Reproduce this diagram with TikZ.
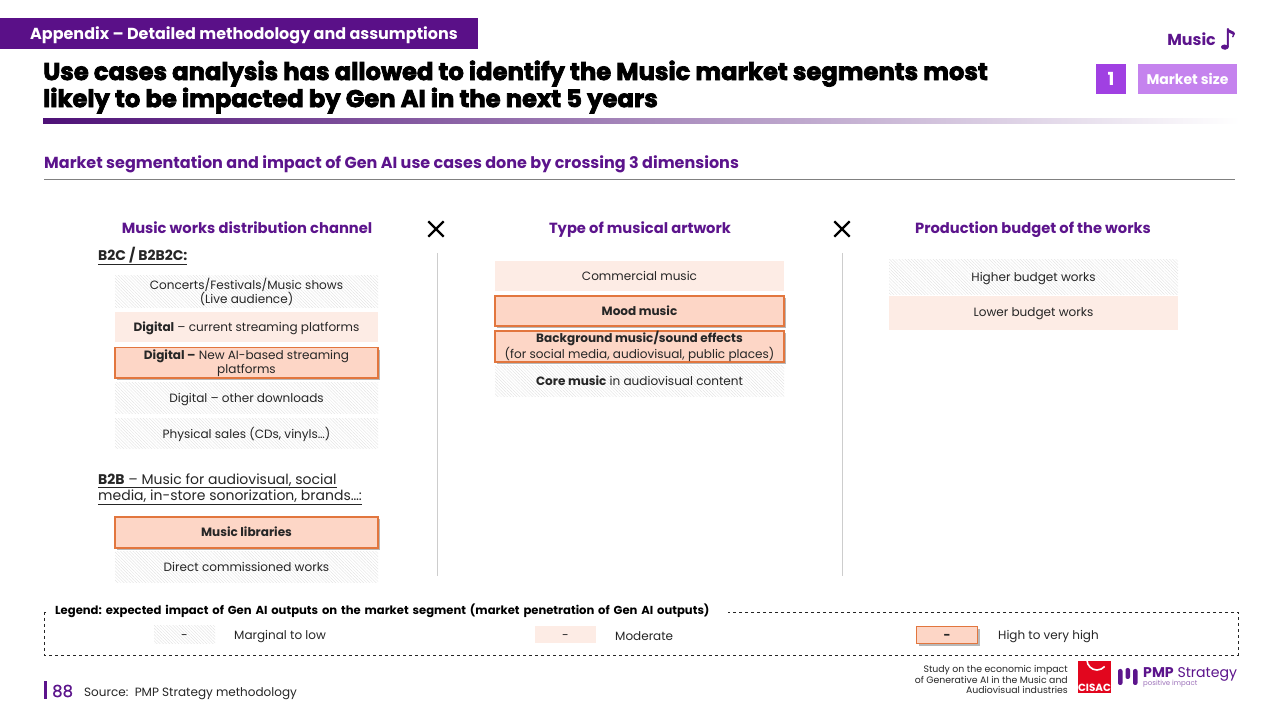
\documentclass[tikz,border=0pt]{standalone}
\usepackage{fontspec}
\setmainfont{Poppins}
\newfontfamily\titleFont[BoldFeatures={FakeBold=3}]{Poppins}
\newfontfamily\mediumFont[FakeBold=0.6]{Poppins}
\newfontfamily\symbolFont[FakeBold=2]{DejaVu Sans}
\usetikzlibrary{patterns.meta,shadows,shapes.misc}
\newcommand{\fsize}[2]{\fontsize{#1}{#2}\selectfont}
\newcommand{\boxStrut}{\rule[-2.8pt]{0pt}{14pt}}
\tikzset{
  lowBox/.style={minimum height=#1,inner sep=0pt,align=center,text=textColor,
    pattern={Lines[angle=-45,distance=2.2pt,line width=0.3pt]},pattern color=hatchColor},
  lowBox/.default=31pt,
  midBox/.style={minimum height=#1,inner sep=0pt,align=center,text=textColor,fill=midColor},
  midBox/.default=31pt,
  highBox/.style={minimum height=#1,inner sep=0pt,align=center,text=textColor,fill=highColor,
    draw=edgeColor,line width=1.4pt,drop shadow={shadow xshift=2.2pt,shadow yshift=-2.2pt,opacity=0.5,fill=black!55}},
  highBox/.default=30pt,
  colHead/.style={text=purpleColor,font=\fsize{14.7}{17}\bfseries,inner sep=0pt,anchor=base},
  crossMark/.style={cross out,draw=black,line width=2.3pt,minimum size=13pt,inner sep=0pt},
  sepLine/.style={draw=sepColor,line width=0.7pt},
  legendText/.style={anchor=west,text=textColor,font=\fsize{12}{14},inner sep=0pt,execute at begin node=\boxStrut},
  boxText/.style={font=\fsize{12.05}{14},execute at begin node=\boxStrut,execute at end node=\boxStrut},
  boxBold/.style={font=\fsize{12.05}{14}\bfseries,execute at begin node=\boxStrut,execute at end node=\boxStrut}
}
\begin{document}
\begin{tikzpicture}[x=1pt,y=1pt]
\definecolor{textColor}{RGB}{38,38,38}
\definecolor{purpleColor}{RGB}{92,20,140}
\definecolor{bannerColor}{RGB}{90,16,136}
\definecolor{hatchColor}{RGB}{222,222,222}
\definecolor{midColor}{RGB}{253,236,229}
\definecolor{highColor}{RGB}{253,214,198}
\definecolor{edgeColor}{RGB}{226,118,62}
\definecolor{sepColor}{RGB}{205,205,205}
\definecolor{stepColor}{RGB}{160,64,226}
\definecolor{stepLight}{RGB}{197,131,238}
\definecolor{ruleMid}{RGB}{205,170,230}
\definecolor{cisacColor}{RGB}{226,6,30}
\path[use as bounding box,fill=white] (0,0) rectangle (1280,720);

% header
\node[fill=bannerColor,minimum width=478pt,minimum height=31pt,inner sep=0pt,anchor=north west] (banner) at (0,702) {};
\node[text=white,anchor=west,inner sep=0pt,font=\fsize{15.97}{20}\bfseries] (bannerText) at (30,684.5) {Appendix -- Detailed methodology and assumptions};
\node[text=black,anchor=west,align=left,inner sep=0pt,font=\titleFont\fsize{24.25}{24.6}\bfseries] (titleText) at (43,632.9) {Use cases analysis has allowed to identify the Music market segments most\\likely to be impacted by Gen AI in the next 5 years};
\path[left color=purpleColor!85!black,middle color=ruleMid,right color=white] (43,596) rectangle (1240,601);
\node[text=purpleColor,anchor=east,inner sep=0pt,font=\fsize{15.9}{20}\bfseries] (musicTag) at (1216,681) {Music};
\node[text=purpleColor,anchor=center,inner sep=0pt,font=\symbolFont\fsize{28}{28}] (musicNote) at (1228,681) {♪};
\node[fill=stepColor,text=white,minimum width=30pt,minimum height=30pt,inner sep=0pt,font=\fsize{18}{20}\bfseries] (stepNum) at (1111,641) {1};
\node[fill=stepLight,text=white,minimum width=99pt,minimum height=30pt,inner sep=0pt,font=\fsize{14}{16}\bfseries] (stepName) at (1187.5,641) {Market size};

% sub title
\node[text=purpleColor,anchor=west,inner sep=0pt,font=\fsize{16}{20}\bfseries] (subTitle) at (44,555.5) {Market segmentation and impact of Gen AI use cases done by crossing 3 dimensions};
\coordinate (ruleL) at (44,541);
\coordinate (ruleR) at (1235,541);
\draw[draw=gray,line width=0.7pt] (ruleL) -- (ruleR);

% column heads
\node[colHead] (headChannel) at (247,486) {Music works distribution channel};
\node[colHead] (headType) at (640,486) {Type of musical artwork};
\node[colHead] (headBudget) at (1033,486) {Production budget of the works};
\node[crossMark] (crossA) at (436,491) {};
\node[crossMark] (crossB) at (842,491) {};
\coordinate (sepAt) at (437,467);
\coordinate (sepAb) at (437,144);
\coordinate (sepBt) at (842,467);
\coordinate (sepBb) at (842,144);
\draw[sepLine] (sepAt) -- (sepAb);
\draw[sepLine] (sepBt) -- (sepBb);

% left column
\node[anchor=west,inner sep=0pt,text=textColor,font=\fsize{14}{16}\bfseries] (labelB2C) at (98,464) {\underline{B2C / B2B2C:}};
\node[lowBox=32pt,boxText,minimum width=263pt] (concerts) at (246.5,428) {Concerts/Festivals/Music shows\\(Live audience)};
\node[midBox=30.5pt,boxText,minimum width=263pt] (digitalNow) at (246.5,392.75) {\textbf{Digital} -- current streaming platforms};
\node[highBox=30.5pt,boxText,minimum width=263pt] (digitalNew) at (246.5,357.25) {\textbf{Digital --} New AI-based streaming\\platforms};
\node[lowBox=31pt,boxText,minimum width=263pt] (digitalOther) at (246.5,321.5) {Digital -- other downloads};
\node[lowBox=30pt,boxText,minimum width=263pt] (physical) at (246.5,286) {Physical sales (CDs, vinyls…)};
\node[anchor=west,align=left,inner sep=0pt,text=textColor,font=\fsize{14}{16.6}] (labelB2B) at (98,231) {\underline{\textbf{B2B} -- Music for audiovisual, social}\\\underline{media, in-store sonorization, brands…:}};
\node[highBox=31pt,boxBold,minimum width=263pt] (libraries) at (246.5,187.5) {Music libraries};
\node[lowBox=31pt,boxText,minimum width=263pt] (direct) at (246.5,152.5) {Direct commissioned works};

% middle column
\node[midBox=30pt,boxText,minimum width=289pt] (commercial) at (639.5,444) {Commercial music};
\node[highBox=30pt,boxBold,minimum width=289pt] (mood) at (639.5,409) {Mood music};
\node[highBox=31pt,boxText,minimum width=289pt] (background) at (639.5,373.5) {\textbf{Background music/sound effects}\\(for social media, audiovisual, public places)};
\node[lowBox=31pt,boxText,minimum width=289pt] (core) at (639.5,338.5) {\textbf{Core music} in audiovisual content};

% right column
\node[lowBox=35pt,boxText,minimum width=289pt] (higher) at (1033.5,442.5) {Higher budget works};
\node[midBox=34pt,boxText,minimum width=289pt] (lower) at (1033.5,407) {Lower budget works};

% legend
\draw[draw=textColor,line width=0.8pt,dashed] (44,108) rectangle (1238,65);
\node[fill=white,anchor=west,inner xsep=6pt,inner ysep=1pt,text width=667pt,align=left,text=black,font=\fsize{11.6}{15}\bfseries\frenchspacing] (legendTitle) at (49,109) {Legend: expected impact of Gen AI outputs on the market segment (market penetration of Gen AI outputs)};
\node[lowBox=18pt,boxText,minimum width=61pt] (legendLow) at (184.5,85) {-};
\node[legendText] (legendLowText) at (234,84) {Marginal to low};
\node[midBox=17pt,boxText,minimum width=61pt] (legendMid) at (565.5,85) {-};
\node[legendText] (legendMidText) at (615,84) {Moderate};
\node[highBox=17pt,boxBold,minimum width=61pt] (legendHigh) at (947,85) {-};
\node[legendText] (legendHighText) at (998,84) {High to very high};

% footer
\path[fill=purpleColor] (44,21) rectangle (46.5,39);
\node[text=purpleColor,anchor=west,inner sep=0pt,font=\mediumFont\fsize{16.5}{20}] (pageNum) at (52,29) {88};
\node[text=textColor,anchor=west,inner sep=0pt,font=\fsize{12}{15}] (sourceText) at (84,26) {Source:\ \ PMP Strategy methodology};
\node[text=textColor,anchor=east,align=right,inner sep=0pt,font=\fsize{9.35}{10.8}] (studyText) at (1068,40.5) {Study on the economic impact\\of Generative AI in the Music and\\Audiovisual industries};
\begin{scope}
\path[clip] (1078,27) rectangle (1111,59);
\path[fill=cisacColor] (1078,27) rectangle (1111,59);
\draw[white,line width=1.6pt] (1087,60) arc (180:320:10);
\end{scope}
\node[text=white,inner sep=0pt,font=\fsize{10.4}{12}\bfseries] (cisacText) at (1094.5,32.5) {CISAC};
\path[fill=purpleColor,rounded corners=2pt] (1118,35) rectangle (1122.5,51);
\path[fill=purpleColor,rounded corners=2pt] (1125.5,41) rectangle (1130,52);
\path[fill=purpleColor,rounded corners=2pt] (1133,35) rectangle (1137.5,51);
\node[text=purpleColor,anchor=west,inner sep=0pt,font=\fsize{14.1}{17}] (pmpText) at (1143,46) {\textbf{PMP} Strategy};
\node[text=purpleColor!60,anchor=west,inner sep=0pt,font=\fsize{7}{8}] (pmpTag) at (1143,36.5) {positive impact};
\end{tikzpicture}
\end{document}
